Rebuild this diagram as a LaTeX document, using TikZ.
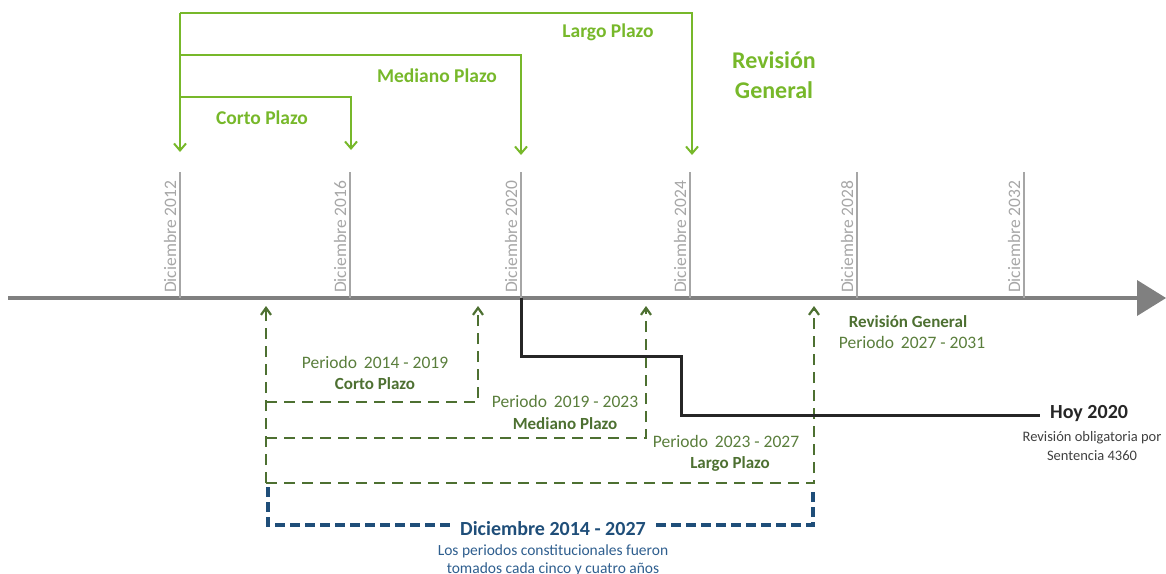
\documentclass[tikz,border=0pt]{standalone}
\usepackage{fontspec}
\setmainfont{Carlito}
\usetikzlibrary{arrows.meta}
\definecolor{lgreen}{HTML}{77B82A}
\definecolor{dgreen}{HTML}{4D7031}
\definecolor{tgreen}{HTML}{5A7E3C}
\definecolor{axgrey}{HTML}{808080}
\definecolor{tkgrey}{HTML}{A6A6A6}
\definecolor{dblue}{HTML}{1F4E79}
\definecolor{tblue}{HTML}{2E5E8E}
\definecolor{txgrey}{HTML}{404040}
\tikzset{
  tick/.style={draw=tkgrey, line width=1.6pt},
  datelbl/.style={rotate=90, anchor=base west, text=tkgrey, inner sep=0pt, font=\fontsize{17.5}{20}\selectfont},
  topbr/.style={draw=lgreen, line width=2pt, -{Straight Barb[length=7pt,width=12pt]}},
  toplbl/.style={text=lgreen, font=\bfseries\fontsize{19.5}{23}\selectfont},
  lowbr/.style={draw=dgreen, line width=2.2pt, dash pattern=on 11pt off 7pt, -{Straight Barb[length=7pt,width=10pt]}},
  lowtxt/.style={text=tgreen, font=\fontsize{17.5}{20}\selectfont, align=center},
  lowbold/.style={text=dgreen, font=\bfseries\fontsize{17}{20}\selectfont, align=center},
  bluebr/.style={draw=dblue, line width=3.5pt, dash pattern=on 10pt off 5pt},
}
\begin{document}
\begin{tikzpicture}[x=1pt,y=-1pt]
\useasboundingbox (0,0) rectangle (1166,573);
% axis
\coordinate (axL) at (8,298);
\coordinate (axR) at (1140,298);
\draw[axgrey, line width=4pt] (axL) -- (axR);
\fill[axgrey] (1137,280) -- (1166,298) -- (1137,316) -- cycle;
% ticks
\foreach \x/\y in {180/2012, 350/2016, 521/2020, 690/2024, 857/2028, 1024/2032}{
  \coordinate (b\y) at (\x,298);
  \coordinate (t\y) at (\x,172);
  \draw[tick] (b\y) -- (t\y);
  \node[datelbl] (d\y) at (\x-4,293) {Diciembre \y};
}
% top brackets
\coordinate (s0) at (180,152);
\coordinate (cTop) at (180,97);
\coordinate (mTop) at (180,55);
\coordinate (lTop) at (180,13);
\draw[topbr] (lTop) -- (s0);
\draw[topbr] (cTop) -- (351,97) -- (351,150);
\draw[topbr] (mTop) -- (521,55) -- (521,155);
\draw[topbr] (lTop) -- (692,13) -- (692,155);
\node[toplbl] (lLbl) at (608,32) {Largo Plazo};
\node[toplbl] (mLbl) at (437,76) {Mediano Plazo};
\node[toplbl] (cLbl) at (262,118) {Corto Plazo};
\node[text=lgreen, font=\bfseries\fontsize{24}{30}\selectfont, align=center] (rg) at (774,75) {Revisión\\General};
% lower dashed brackets
\coordinate (lb) at (266,483);
\coordinate (lc) at (266,402);
\coordinate (lm) at (266,438);
\draw[lowbr] (lb) -- (266,306);
\draw[lowbr] (lc) -- (478,402) -- (478,306);
\draw[lowbr] (lm) -- (646,438) -- (646,306);
\draw[lowbr] (lb) -- (814,483) -- (814,306);
\node[lowtxt] (p1) at (375,362) {Periodo\, 2014 - 2019};
\node[lowbold] (p1b) at (375,384) {Corto Plazo};
\node[lowtxt] (p2) at (565,401) {Periodo\, 2019 - 2023};
\node[lowbold] (p2b) at (565,424) {Mediano Plazo};
\node[lowtxt] (p3) at (726,441) {Periodo\, 2023 - 2027};
\node[lowbold] (p3b) at (730,464) {Largo Plazo};
\node[lowbold] (p4b) at (908,322) {Revisión General};
\node[lowtxt] (p4) at (912,342) {Periodo\, 2027 - 2031};
% today line
\node[text=black!85, font=\bfseries\fontsize{20}{24}\selectfont, anchor=west, inner sep=2pt] (hoy) at (1048,414) {Hoy 2020};
\node[text=txgrey, font=\fontsize{14.5}{19}\selectfont, align=center] (hoys) at (1092,446) {Revisión obligatoria por\\Sentencia 4360};
\draw[black!85, line width=3pt] (b2020) -- (521,356) -- (681,356) -- (681,415) -- (1040,415);
% blue bracket
\node[text=dblue, font=\bfseries\fontsize{20}{24}\selectfont, inner sep=10pt] (dic) at (553,529) {Diciembre 2014 - 2027};
\draw[bluebr] (268,487) -- (268,525) -- (dic.west |- 0,525);
\draw[bluebr] (dic.east |- 0,525) -- (813,525) -- (813,487);
\node[text=tblue, font=\fontsize{15.5}{18.5}\selectfont, align=center, anchor=north] (dics) at (553,541) {Los periodos constitucionales fueron\\tomados cada cinco y cuatro años};
\end{tikzpicture}
\end{document}
